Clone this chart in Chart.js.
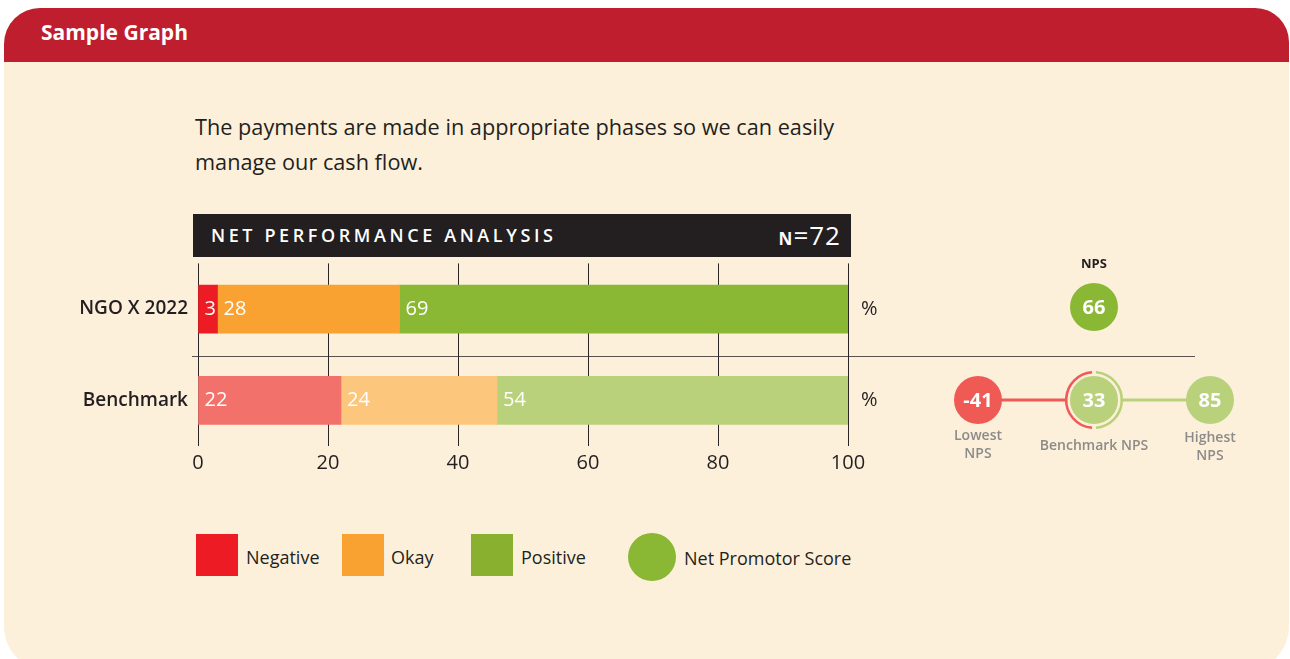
<!doctype html>
<html lang="en">
<head>
<meta charset="utf-8">
<title>Sample Graph</title>
<script src="https://cdn.jsdelivr.net/npm/chart.js"></script>
<style>
  html, body { margin:0; padding:0; width:1290px; height:659px; overflow:hidden; background:#fff; font-family:"Open Sans", sans-serif; color:#231F20; }
  .abs { position:absolute; }
  .card { left:4px; top:8px; width:1285px; height:664px; background:#FDF0DB; border-radius:36px 34px 46px 46px; overflow:hidden; }
  .head { left:0; top:0; width:100%; height:54px; background:#BE1E2D; }
  .head span { position:absolute; left:37px; top:10px; color:#fff; font-weight:700; font-size:21px; }
  .quote { left:195px; top:109px; font-size:21.7px; line-height:35px; }
  .titlebar { left:193px; top:214px; width:658px; height:43px; background:#231F20; color:#fff; }
  .titlebar .t { position:absolute; left:18px; top:9px; font-size:18px; font-weight:600; letter-spacing:3.6px; }
  .titlebar .n { position:absolute; right:10px; top:3px; letter-spacing:1px; }
  .sep { left:192px; top:356px; width:1003px; height:1px; background:#5a524e; }
  .sw { width:42px; height:42px; top:534px; }
  .lt { top:545px; font-size:18px; }
</style>
</head>
<body>
  <div class="abs card"><div class="abs head"><span>Sample Graph</span></div></div>
  <div class="abs quote">The payments are made in appropriate phases so we can easily<br>manage our cash flow.</div>
  <div class="abs titlebar"><span class="t">NET PERFORMANCE ANALYSIS</span><span class="n" id="nval"></span></div>
  <div class="abs sep"></div>
  <div class="abs" style="left:60px;top:242px;width:860px;height:243px;"><canvas id="bars"></canvas></div>
  <div class="abs" style="left:930px;top:240px;width:320px;height:240px;"><canvas id="nps"></canvas></div>
  <div id="legend"></div>

<script>
  const categories = ['NGO X 2022', 'Benchmark'];
  const negative = [3, 22];
  const okay = [28, 24];
  const positive = [69, 54];
  const xTicks = [0, 20, 40, 60, 80, 100];
  const sampleSize = 72;
  const npsScore = 66;
  const npsValues = [-41, 33, 85];
  const npsLabels = [['Lowest', 'NPS'], ['Benchmark NPS'], ['Highest', 'NPS']];
  const legendNames = ['Negative', 'Okay', 'Positive', 'Net Promotor Score'];

  const strong = ['#ED1C24', '#F9A231', '#8AB734'];
  const light = ['#F2716B', '#FCC67D', '#B9D17A'];
  const cream = '#FDF0DB';
  const fontFam = '"Open Sans", sans-serif';

  document.getElementById('nval').innerHTML =
    '<span style="font-size:17px;font-weight:700">N</span><span style="font-size:26px">=' + sampleSize + '</span>';

  // legend
  const legend = document.getElementById('legend');
  const swX = [196, 342, 471];
  const txX = [246, 391, 521];
  for (let i = 0; i < 3; i++) {
    legend.innerHTML += '<div class="abs sw" style="left:' + swX[i] + 'px;background:' + (i == 2 ? '#8AB030' : strong[i]) + '"></div>' +
      '<div class="abs lt" style="left:' + txX[i] + 'px">' + legendNames[i] + '</div>';
  }
  legend.innerHTML += '<div class="abs" style="left:628px;top:533px;width:48px;height:48px;border-radius:50%;background:' + strong[2] + '"></div>' +
    '<div class="abs lt" style="left:684px;top:546px">' + legendNames[3] + '</div>';

  const barLabels = {
    id: 'barLabels',
    afterDatasetsDraw(chart) {
      const ctx = chart.ctx;
      ctx.save();
      ctx.font = '20px ' + fontFam;
      ctx.textBaseline = 'middle';
      chart.data.datasets.forEach((ds, di) => {
        chart.getDatasetMeta(di).data.forEach((el, i) => {
          const p = el.getProps(['x', 'y', 'base'], true);
          ctx.fillStyle = '#fff';
          ctx.textAlign = 'left';
          ctx.fillText(ds.data[i], p.base + 6, p.y);
        });
      });
      const xs = chart.scales.x;
      ctx.fillStyle = '#231F20';
      chart.getDatasetMeta(0).data.forEach(el => {
        ctx.fillText('%', xs.getPixelForValue(100) + 13, el.y);
      });
      ctx.restore();
    }
  };

  new Chart(document.getElementById('bars'), {
    type: 'bar',
    data: {
      labels: categories,
      datasets: [
        { label: 'Negative', data: negative, backgroundColor: [strong[0], light[0]] },
        { label: 'Okay', data: okay, backgroundColor: [strong[1], light[1]] },
        { label: 'Positive', data: positive, backgroundColor: [strong[2], light[2]] }
      ]
    },
    options: {
      indexAxis: 'y',
      responsive: true,
      maintainAspectRatio: false,
      animation: false,
      barThickness: 48,
      layout: { padding: { top: 9, right: 72, bottom: 9, left: 0 } },
      plugins: { legend: { display: false }, tooltip: { enabled: false } },
      scales: {
        x: {
          stacked: true, min: 0, max: 100,
          afterBuildTicks: s => { s.ticks = xTicks.map(v => ({ value: v })); },
          afterFit: s => { s.height = 30; },
          grid: { color: '#2b2625', lineWidth: 1, drawTicks: false },
          border: { display: false },
          ticks: { padding: 5, color: '#231F20', font: { family: fontFam, size: 20 } }
        },
        y: {
          stacked: true,
          afterFit: s => { s.width = 138; },
          grid: { display: false, drawTicks: false },
          border: { display: false },
          ticks: { padding: 10, color: '#231F20', font: { family: fontFam, size: 19, weight: '600' } }
        }
      }
    },
    plugins: [barLabels]
  });

  const npsDecor = {
    id: 'npsDecor',
    afterDatasetsDraw(chart) {
      const ctx = chart.ctx;
      const pts = chart.getDatasetMeta(0).data;
      const top = chart.getDatasetMeta(1).data[0];
      ctx.save();
      // ring round the benchmark circle
      const b = pts[1], d = 0.07, r = 27.8;
      ctx.lineWidth = 2.6;
      ctx.strokeStyle = '#EF5A55';
      ctx.beginPath(); ctx.arc(b.x, b.y, r, Math.PI / 2 + d, Math.PI * 1.5 - d); ctx.stroke();
      ctx.strokeStyle = light[2];
      ctx.beginPath(); ctx.arc(b.x, b.y, r, -Math.PI / 2 + d, Math.PI / 2 - d); ctx.stroke();
      // values in circles
      ctx.fillStyle = '#fff';
      ctx.textAlign = 'center';
      ctx.textBaseline = 'middle';
      ctx.font = 'bold 20px ' + fontFam;
      pts.forEach((p, i) => ctx.fillText(npsValues[i], p.x, p.y + 1));
      ctx.fillText(npsScore, top.x, top.y + 1);
      // captions
      ctx.fillStyle = '#231F20';
      ctx.font = 'bold 13px ' + fontFam;
      ctx.fillText('NPS', top.x, top.y - 43);
      ctx.fillStyle = '#8C8B89';
      ctx.font = '600 14px ' + fontFam;
      const offs = [36, 46, 38];
      pts.forEach((p, i) => {
        npsLabels[i].forEach((t, j) => ctx.fillText(t, p.x, p.y + offs[i] + j * 18));
      });
      ctx.restore();
    }
  };

  new Chart(document.getElementById('nps'), {
    type: 'line',
    data: {
      datasets: [
        {
          label: 'Benchmark NPS',
          data: npsValues.map((v, i) => ({ x: i, y: 0 })),
          borderWidth: 3,
          segment: { borderColor: c => c.p0DataIndex === 0 ? '#EF5A55' : light[2] },
          pointRadius: [24, 26, 24],
          pointBackgroundColor: ['#F05A55', light[2], light[2]],
          pointBorderWidth: [0, 4, 0],
          pointBorderColor: cream,
          clip: false
        },
        {
          label: 'NPS',
          data: [{ x: 1, y: 1 }],
          showLine: false,
          pointRadius: 24,
          pointBackgroundColor: strong[2],
          pointBorderWidth: 0,
          clip: false
        }
      ]
    },
    options: {
      responsive: true,
      maintainAspectRatio: false,
      animation: false,
      layout: { padding: { top: 67, right: 40, bottom: 80, left: 48 } },
      plugins: { legend: { display: false }, tooltip: { enabled: false } },
      scales: {
        x: { type: 'linear', min: 0, max: 2, display: false },
        y: { type: 'linear', min: 0, max: 1, display: false }
      }
    },
    plugins: [npsDecor]
  });
</script>
</body>
</html>
